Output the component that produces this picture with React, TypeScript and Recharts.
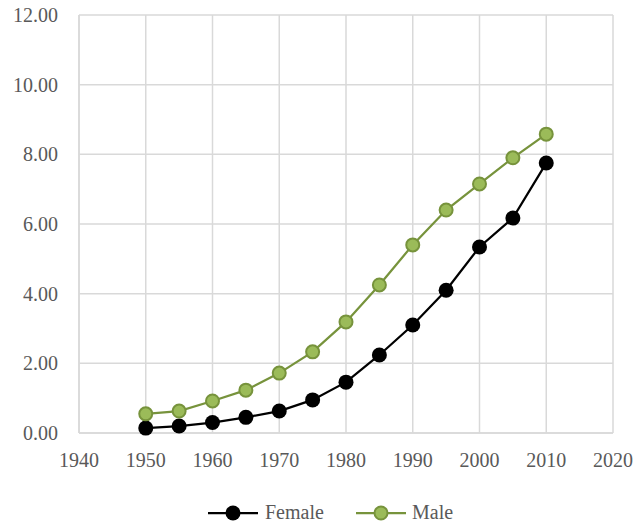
import React from "react";
import { LineChart, Line, XAxis, YAxis, CartesianGrid } from "recharts";

const years = [1950, 1955, 1960, 1965, 1970, 1975, 1980, 1985, 1990, 1995, 2000, 2005, 2010];
const female = [0.14, 0.2, 0.3, 0.45, 0.63, 0.95, 1.46, 2.24, 3.1, 4.1, 5.34, 6.17, 7.75];
const male = [0.55, 0.63, 0.92, 1.23, 1.72, 2.33, 3.19, 4.25, 5.4, 6.4, 7.15, 7.9, 8.58];
const xTicks = [1940, 1950, 1960, 1970, 1980, 1990, 2000, 2010, 2020];
const yTicks = [0, 2, 4, 6, 8, 10, 12];

const data = years.map((y, i) => ({ year: y, Female: female[i], Male: male[i] }));

const FONT = "'Times New Roman', 'Liberation Serif', 'DejaVu Serif', serif";
const TEXT = "#595959";
const GRID = "#D9D9D9";
const GREEN_LINE = "#77933C";
const GREEN_FILL = "#9BBB59";

const LegendBox = () => (
  <svg width={637} height={30} style={{ position: "absolute", left: 0, top: 498, display: "block" }}>
    <g>
      <line x1={208} y1={15} x2={258} y2={15} stroke="#000" strokeWidth={2.25} />
      <circle cx={233} cy={15} r={7.5} fill="#000" />
      <text x={265} y={21} style={{ fontFamily: FONT }} fontSize={20} fill={TEXT}>Female</text>
    </g>
    <g>
      <line x1={356} y1={15} x2={406} y2={15} stroke={GREEN_LINE} strokeWidth={2.25} />
      <circle cx={381} cy={15} r={6.5} fill={GREEN_FILL} stroke={GREEN_LINE} strokeWidth={2} />
      <text x={412} y={21} style={{ fontFamily: FONT }} fontSize={20} fill={TEXT}>Male</text>
    </g>
  </svg>
);

export default function App() {
  return (
    <div style={{ position: "absolute", left: 0, top: 0, width: 637, height: 527, background: "#fff", fontFamily: FONT }}>
      <LineChart width={637} height={527} data={data} margin={{ top: 15, right: 24, left: 0, bottom: 64 }} style={{ fontFamily: FONT }}>
        <CartesianGrid stroke={GRID} strokeWidth={1.5} />
        <XAxis
          dataKey="year"
          type="number"
          domain={[1940, 2020]}
          ticks={xTicks}
          tickLine={false}
          tickSize={0}
          tickMargin={20}
          axisLine={{ stroke: GRID, strokeWidth: 1.5 }}
          tick={{ fill: TEXT, fontSize: 20, style: { fontFamily: FONT } }}
        />
        <YAxis
          type="number"
          domain={[0, 12]}
          ticks={yTicks}
          width={79}
          tickLine={false}
          tickSize={0}
          tickMargin={21}
          axisLine={{ stroke: GRID, strokeWidth: 1.5 }}
          tickFormatter={(v: number) => v.toFixed(2)}
          tick={{ fill: TEXT, fontSize: 20, style: { fontFamily: FONT } }}
        />
        <Line
          dataKey="Female"
          stroke="#000"
          strokeWidth={2.25}
          isAnimationActive={false}
          dot={{ r: 7.5, fill: "#000", stroke: "none" }}
          activeDot={false}
        />
        <Line
          dataKey="Male"
          stroke={GREEN_LINE}
          strokeWidth={2.25}
          isAnimationActive={false}
          dot={{ r: 6.5, fill: GREEN_FILL, stroke: GREEN_LINE, strokeWidth: 2 }}
          activeDot={false}
        />
      </LineChart>
      <LegendBox />
    </div>
  );
}
